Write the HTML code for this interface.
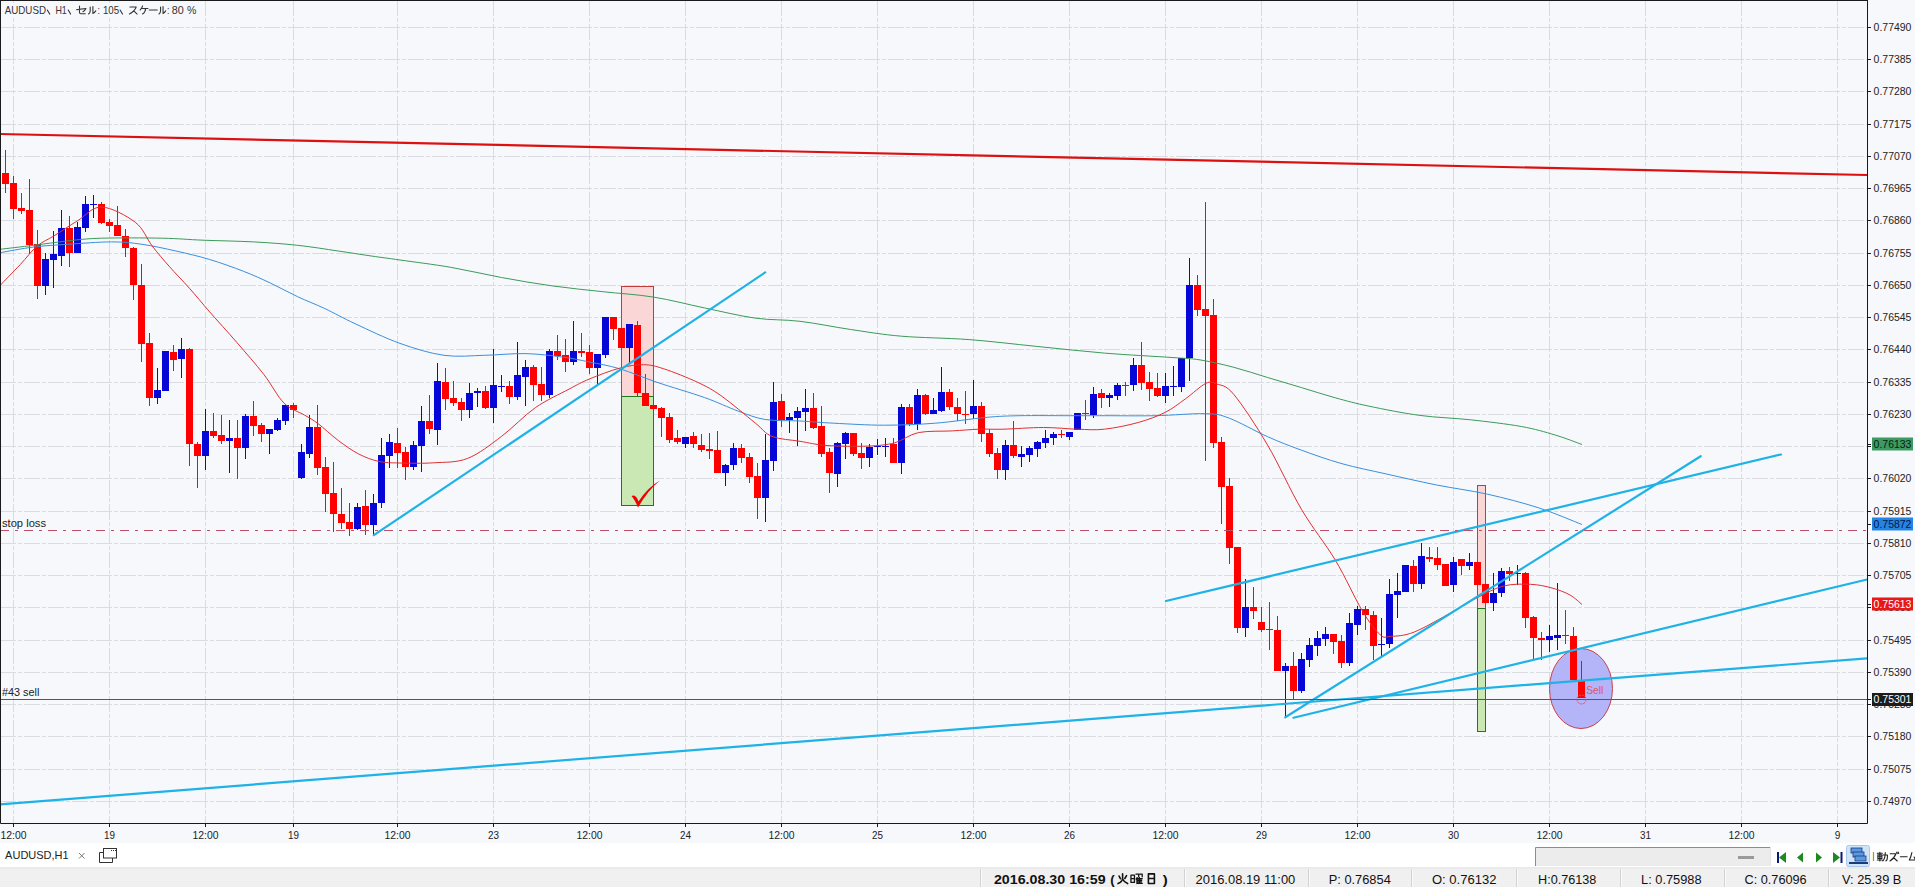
<!DOCTYPE html>
<html><head><meta charset="utf-8"><style>
html,body{margin:0;padding:0;width:1915px;height:887px;overflow:hidden;background:#f6f8fc}
svg{position:absolute;left:0;top:0;font-family:"Liberation Sans",sans-serif}
</style></head><body>
<svg width="1915" height="887" viewBox="0 0 1915 887">
<path d="M0 27.5 H1867 M0 59.5 H1867 M0 91.5 H1867 M0 124.5 H1867 M0 156.5 H1867 M0 188.5 H1867 M0 220.5 H1867 M0 253.5 H1867 M0 285.5 H1867 M0 317.5 H1867 M0 349.5 H1867 M0 382.5 H1867 M0 414.5 H1867 M0 446.5 H1867 M0 478.5 H1867 M0 511.5 H1867 M0 543.5 H1867 M0 575.5 H1867 M0 607.5 H1867 M0 640.5 H1867 M0 672.5 H1867 M0 704.5 H1867 M0 736.5 H1867 M0 769.5 H1867 M0 801.5 H1867" stroke="#dadce2" stroke-width="1" stroke-dasharray="16 2 4 2" fill="none"/>
<path d="M13.5 0 V823 M109.5 0 V823 M205.5 0 V823 M293.5 0 V823 M397.5 0 V823 M493.5 0 V823 M589.5 0 V823 M685.5 0 V823 M781.5 0 V823 M877.5 0 V823 M973.5 0 V823 M1069.5 0 V823 M1165.5 0 V823 M1261.5 0 V823 M1357.5 0 V823 M1453.5 0 V823 M1549.5 0 V823 M1645.5 0 V823 M1741.5 0 V823 M1837.5 0 V823" stroke="#dadce2" stroke-width="1" stroke-dasharray="16 2 4 2" fill="none"/>
<rect x="621.5" y="286.5" width="32" height="110" fill="#fad6d6" stroke="#c03a3a" stroke-width="1"/>
<rect x="621.5" y="396.5" width="32" height="109" fill="#c9e8b4" stroke="#1f7a1f" stroke-width="1"/>
<rect x="1477.5" y="485.5" width="8" height="123" fill="#fad6d6" stroke="#c03a3a" stroke-width="1"/>
<rect x="1477.5" y="608.5" width="8" height="123" fill="#c9e8b4" stroke="#1f7a1f" stroke-width="1"/>
<ellipse cx="1581" cy="688.5" rx="31.5" ry="40" fill="#b4b4f8" stroke="#c8404e" stroke-width="1"/>
<path d="M5.5 150 V193 M13.5 176 V219 M21.5 193 V214 M29.5 179 V254 M37.5 230 V299 M69.5 216 V267 M101.5 202 V224 M109.5 219 V232 M117.5 206 V236 M125.5 229 V257 M133.5 247 V300 M141.5 264 V362 M149.5 333 V406 M173.5 345 V371 M189.5 348 V466 M197.5 442 V488 M213.5 413 V438 M221.5 415 V444 M237.5 420 V479 M253.5 401 V436 M261.5 423 V442 M293.5 403 V418 M317.5 405 V475 M325.5 457 V512 M333.5 462 V532 M341.5 488 V529 M349.5 503 V536 M365.5 490 V535 M397.5 428 V468 M405.5 447 V480 M429.5 395 V434 M445.5 368 V410 M453.5 381 V406 M461.5 398 V421 M485.5 386 V409 M509.5 381 V404 M533.5 365 V401 M541.5 367 V401 M557.5 335 V360 M565.5 339 V372 M581.5 333 V357 M589.5 345 V374 M613.5 317 V340 M621.5 328 V348 M637.5 321 V396 M645.5 374 V406 M653.5 405 V409 M661.5 407 V437 M669.5 413 V443 M677.5 430 V444 M693.5 432 V448 M701.5 434 V452 M709.5 433 V459 M717.5 431 V473 M741.5 444 V463 M749.5 453 V483 M757.5 463 V519 M781.5 394 V427 M813.5 393 V429 M821.5 406 V457 M829.5 448 V493 M853.5 433 V456 M861.5 443 V469 M893.5 438 V463 M909.5 404 V426 M925.5 394 V415 M949.5 389 V410 M957.5 398 V421 M965.5 391 V424 M981.5 402 V442 M989.5 429 V457 M997.5 448 V479 M1013.5 421 V458 M1061.5 430 V438 M1085.5 400 V420 M1101.5 389 V408 M1125.5 382 V396 M1141.5 342 V390 M1149.5 372 V401 M1157.5 373 V397 M1197.5 275 V316 M1205.5 202 V461 M1213.5 299 V448 M1221.5 437 V524 M1229.5 478 V564 M1237.5 547 V633 M1253.5 587 V619 M1261.5 607 V632 M1269.5 602 V650 M1277.5 616 V671 M1293.5 652 V700 M1333.5 634 V654 M1341.5 635 V668 M1365.5 606 V630 M1373.5 611 V660 M1413.5 560 V592 M1429.5 547 V562 M1437.5 547 V570 M1445.5 564 V586 M1461.5 559 V575 M1477.5 562 V585 M1485.5 584 V603 M1509.5 567 V581 M1525.5 572 V628 M1533.5 616 V659 M1541.5 632 V660 M1565.5 610 V644 M1573.5 627 V680 M1581.5 661 V698" stroke="#a8282c" stroke-width="1" fill="none"/>
<path d="M45.5 253 V295 M53.5 231 V288 M61.5 210 V266 M77.5 222 V253 M85.5 196 V232 M93.5 195 V218 M157.5 368 V404 M165.5 351 V391 M181.5 338 V378 M205.5 409 V470 M229.5 420 V473 M245.5 414 V459 M269.5 429 V454 M277.5 418 V431 M285.5 405 V425 M301.5 444 V479 M309.5 415 V458 M357.5 503 V530 M373.5 494 V536 M381.5 438 V508 M389.5 434 V468 M413.5 441 V470 M421.5 406 V472 M437.5 363 V445 M469.5 383 V418 M477.5 388 V407 M493.5 349 V423 M501.5 375 V392 M517.5 342 V400 M525.5 360 V406 M549.5 349 V398 M573.5 321 V365 M597.5 354 V386 M605.5 317 V358 M629.5 324 V363 M685.5 437 V448 M725.5 464 V486 M733.5 443 V470 M765.5 434 V522 M773.5 382 V471 M789.5 413 V433 M797.5 407 V446 M805.5 389 V431 M837.5 442 V487 M845.5 432 V459 M869.5 444 V467 M877.5 439 V455 M885.5 438 V457 M901.5 404 V474 M917.5 389 V430 M933.5 398 V414 M941.5 367 V412 M973.5 380 V419 M1005.5 440 V480 M1021.5 446 V467 M1029.5 446 V462 M1037.5 441 V457 M1045.5 430 V448 M1053.5 432 V445 M1069.5 432 V440 M1077.5 413 V430 M1093.5 387 V418 M1109.5 393 V407 M1117.5 383 V400 M1133.5 358 V391 M1165.5 373 V403 M1173.5 366 V396 M1181.5 358 V392 M1189.5 258 V381 M1245.5 579 V637 M1285.5 663 V717 M1301.5 653 V693 M1309.5 638 V667 M1317.5 631 V656 M1325.5 627 V646 M1349.5 613 V666 M1357.5 606 V635 M1381.5 618 V657 M1389.5 579 V648 M1397.5 573 V618 M1405.5 565 V592 M1421.5 543 V589 M1453.5 557 V592 M1469.5 553 V570 M1493.5 573 V611 M1501.5 568 V597 M1517.5 565 V585 M1549.5 625 V652 M1557.5 583 V650" stroke="#14147a" stroke-width="1" fill="none"/>
<path d="M2 173h7v11h-7z M10 183h7v26h-7z M18 208h7v3h-7z M26 210h7v35h-7z M34 244h7v42h-7z M66 228h7v25h-7z M98 204h7v19h-7z M106 222h7v4h-7z M114 225h7v11h-7z M122 236h7v12h-7z M130 248h7v37h-7z M138 285h7v59h-7z M146 343h7v55h-7z M170 352h7v8h-7z M186 349h7v95h-7z M194 444h7v12h-7z M210 431h7v5h-7z M218 435h7v6h-7z M234 438h7v10h-7z M250 416h7v10h-7z M258 425h7v9h-7z M290 405h7v5h-7z M314 427h7v41h-7z M322 467h7v27h-7z M330 493h7v21h-7z M338 514h7v9h-7z M346 522h7v7h-7z M362 506h7v19h-7z M394 443h7v10h-7z M402 452h7v15h-7z M426 421h7v8h-7z M442 382h7v17h-7z M450 398h7v5h-7z M458 402h7v8h-7z M482 391h7v17h-7z M506 386h7v11h-7z M530 367h7v18h-7z M538 384h7v11h-7z M554 351h7v5h-7z M562 355h7v7h-7z M578 351h7v2h-7z M586 352h7v16h-7z M610 317h7v12h-7z M618 328h7v20h-7z M634 325h7v68h-7z M642 393h7v13h-7z M650 405h7v4h-7z M658 408h7v10h-7z M666 417h7v23h-7z M674 438h7v4h-7z M690 436h7v8h-7z M698 445h7v5h-7z M706 449h7v2h-7z M714 450h7v23h-7z M738 448h7v10h-7z M746 457h7v20h-7z M754 476h7v22h-7z M778 401h7v19h-7z M810 408h7v20h-7z M818 426h7v28h-7z M826 452h7v21h-7z M850 433h7v21h-7z M858 453h7v5h-7z M890 444h7v19h-7z M906 407h7v17h-7z M922 395h7v19h-7z M946 392h7v15h-7z M954 407h7v7h-7z M962 414h7v1h-7z M978 406h7v28h-7z M986 433h7v21h-7z M994 453h7v17h-7z M1010 445h7v11h-7z M1058 434h7v1h-7z M1082 413h7v1h-7z M1098 393h7v5h-7z M1122 385h7v1h-7z M1138 365h7v18h-7z M1146 382h7v7h-7z M1154 388h7v8h-7z M1194 285h7v25h-7z M1202 309h7v7h-7z M1210 315h7v128h-7z M1218 442h7v45h-7z M1226 486h7v62h-7z M1234 547h7v81h-7z M1250 607h7v4h-7z M1258 622h7v8h-7z M1266 629h7v1h-7z M1274 630h7v41h-7z M1290 666h7v25h-7z M1330 634h7v8h-7z M1338 641h7v22h-7z M1362 609h7v6h-7z M1370 615h7v31h-7z M1410 566h7v18h-7z M1426 557h7v2h-7z M1434 558h7v7h-7z M1442 564h7v22h-7z M1458 559h7v7h-7z M1474 562h7v23h-7z M1482 584h7v19h-7z M1506 571h7v3h-7z M1522 573h7v45h-7z M1530 617h7v21h-7z M1538 638h7v2h-7z M1562 635h7v1h-7z M1570 636h7v44h-7z M1578 681h7v17h-7z" fill="#ff0000"/>
<path d="M42 259h7v27h-7z M50 254h7v6h-7z M58 228h7v28h-7z M74 227h7v26h-7z M82 204h7v24h-7z M90 204h7v1h-7z M154 390h7v8h-7z M162 351h7v40h-7z M178 349h7v10h-7z M202 431h7v25h-7z M226 438h7v3h-7z M242 416h7v32h-7z M266 429h7v5h-7z M274 420h7v10h-7z M282 405h7v16h-7z M298 452h7v26h-7z M306 427h7v27h-7z M354 507h7v22h-7z M370 503h7v22h-7z M378 455h7v48h-7z M386 442h7v14h-7z M410 445h7v22h-7z M418 421h7v25h-7z M434 381h7v49h-7z M466 393h7v17h-7z M474 391h7v2h-7z M490 385h7v23h-7z M498 386h7v1h-7z M514 375h7v22h-7z M522 367h7v10h-7z M546 351h7v44h-7z M570 351h7v11h-7z M594 354h7v14h-7z M602 317h7v38h-7z M626 324h7v24h-7z M682 437h7v7h-7z M722 465h7v8h-7z M730 448h7v17h-7z M762 460h7v38h-7z M770 402h7v59h-7z M786 417h7v3h-7z M794 411h7v7h-7z M802 408h7v4h-7z M834 443h7v31h-7z M842 433h7v11h-7z M866 447h7v11h-7z M874 446h7v1h-7z M882 446h7v1h-7z M898 407h7v56h-7z M914 395h7v29h-7z M930 410h7v4h-7z M938 392h7v19h-7z M970 406h7v8h-7z M1002 445h7v25h-7z M1018 454h7v3h-7z M1026 448h7v7h-7z M1034 442h7v7h-7z M1042 438h7v5h-7z M1050 434h7v4h-7z M1066 432h7v5h-7z M1074 413h7v17h-7z M1090 394h7v21h-7z M1106 395h7v3h-7z M1114 385h7v11h-7z M1130 365h7v20h-7z M1162 386h7v10h-7z M1170 386h7v1h-7z M1178 358h7v29h-7z M1186 285h7v73h-7z M1242 607h7v21h-7z M1282 666h7v5h-7z M1298 659h7v32h-7z M1306 645h7v15h-7z M1314 638h7v8h-7z M1322 634h7v5h-7z M1346 623h7v40h-7z M1354 609h7v16h-7z M1378 644h7v1h-7z M1386 594h7v50h-7z M1394 591h7v4h-7z M1402 565h7v27h-7z M1418 556h7v28h-7z M1450 562h7v23h-7z M1466 562h7v4h-7z M1490 593h7v10h-7z M1498 571h7v22h-7z M1514 573h7v1h-7z M1546 636h7v4h-7z M1554 635h7v3h-7z" fill="#0606d6"/>
<path d="M0 249.3 C5.63 248.63 22.53 246.7 33.8 245.3 C45.07 243.9 56.32 242.08 67.6 240.9 C78.88 239.72 85.72 238.65 101.5 238.2 C117.28 237.75 145.4 237.87 162.3 238.2 C179.2 238.53 187.68 239.58 202.9 240.2 C218.12 240.82 237.82 241.05 253.6 241.9 C269.38 242.75 283.5 243.78 297.6 245.3 C311.7 246.82 325.8 249.2 338.2 251 C350.6 252.8 361.7 254.6 372 256.1 C382.3 257.6 386.88 258.13 400 260 C413.12 261.87 433.78 264.38 450.7 267.3 C467.62 270.22 484.58 274.4 501.5 277.5 C518.42 280.6 535.3 283.53 552.2 285.9 C569.1 288.27 586 289.83 602.9 291.7 C619.8 293.57 636.68 294.4 653.6 297.1 C670.52 299.8 687.48 304.4 704.4 307.9 C721.32 311.4 739.17 315.87 755.1 318.1 C771.03 320.33 784.07 319.4 800 321.3 C815.93 323.2 833.78 327.02 850.7 329.5 C867.62 331.98 881.77 334.52 901.5 336.2 C921.23 337.88 946.57 337.9 969.1 339.6 C991.63 341.3 1014.15 344.15 1036.7 346.4 C1059.25 348.65 1081.85 351.25 1104.4 353.1 C1126.95 354.95 1156.07 356.37 1172 357.5 C1187.93 358.63 1189.7 358.27 1200 359.9 C1210.3 361.53 1222.53 364.37 1233.8 367.3 C1245.07 370.23 1256.32 374.12 1267.6 377.5 C1278.88 380.88 1290.22 384.22 1301.5 387.6 C1312.78 390.98 1324.03 394.7 1335.3 397.8 C1346.57 400.9 1355.02 403.27 1369.1 406.2 C1383.18 409.13 1402.9 413.13 1419.8 415.4 C1436.7 417.67 1453.58 417.95 1470.5 419.8 C1487.42 421.65 1507.2 423.97 1521.3 426.5 C1535.4 429.03 1544.98 432 1555.1 435 C1565.22 438 1577.52 442.92 1582 444.5" stroke="#3c9a5a" stroke-width="1" fill="none" stroke-linejoin="round"/>
<path d="M0 252.7 C5.63 251.75 22.53 248.4 33.8 247 C45.07 245.6 54.63 245.15 67.6 244.3 C80.57 243.45 99.2 241.9 111.6 241.9 C124 241.9 131.28 242.78 142 244.3 C152.72 245.82 164.62 248.47 175.9 251 C187.18 253.53 198.43 256.12 209.7 259.5 C220.97 262.88 233.37 267.37 243.5 271.3 C253.63 275.23 261.48 278.87 270.5 283.1 C279.52 287.33 288.57 292.47 297.6 296.7 C306.63 300.93 315.12 304 324.7 308.5 C334.28 313 342.55 317.88 355.1 323.7 C367.65 329.52 385.18 338.13 400 343.4 C414.82 348.67 429.92 353.32 444 355.3 C458.08 357.28 470.98 355.58 484.5 355.3 C498.02 355.02 512.13 353.32 525.1 353.6 C538.07 353.88 551.58 355.6 562.3 357 C573.02 358.4 579.82 360.03 589.4 362 C598.98 363.97 608.53 365.42 619.8 368.8 C631.07 372.18 642.9 377.52 657 382.3 C671.1 387.08 690.87 392.7 704.4 397.5 C717.93 402.3 728.07 407.43 738.2 411.1 C748.33 414.77 754.9 417.85 765.2 419.5 C775.5 421.15 788.57 420.38 800 421 C811.43 421.62 819.72 422.5 833.8 423.2 C847.88 423.9 867.58 425.2 884.5 425.2 C901.42 425.2 918.38 424.5 935.3 423.2 C952.22 421.9 971.92 418.65 986 417.4 C1000.08 416.15 1005.72 415.98 1019.8 415.7 C1033.88 415.42 1056.4 415.7 1070.5 415.7 C1084.6 415.7 1090.3 415.7 1104.4 415.7 C1118.5 415.7 1138.2 416.03 1155.1 415.7 C1172 415.37 1193.43 413.28 1205.8 413.7 C1218.17 414.12 1219 414.37 1229.3 418.2 C1239.6 422.03 1255.57 431.37 1267.6 436.7 C1279.63 442.03 1289.1 445.7 1301.5 450.2 C1313.9 454.7 1327.92 459.75 1342 463.7 C1356.08 467.65 1370.22 470.35 1386 473.9 C1401.78 477.45 1419.78 481.62 1436.7 485 C1453.62 488.38 1470.58 490.42 1487.5 494.2 C1504.42 497.98 1522.45 502.65 1538.2 507.7 C1553.95 512.75 1574.7 521.7 1582 524.5" stroke="#3a8fdc" stroke-width="1" fill="none" stroke-linejoin="round"/>
<path d="M0 285.5 C3.38 282 14.1 271.08 20.3 264.5 C26.5 257.92 31.57 250.78 37.2 246 C42.83 241.22 47.33 240.03 54.1 235.8 C60.87 231.57 69.9 225.4 77.8 220.6 C85.7 215.8 91.92 206.72 101.5 207 C111.08 207.28 126.85 215.8 135.3 222.3 C143.75 228.8 146.57 238.68 152.2 246 C157.83 253.32 162.9 259.17 169.1 266.2 C175.3 273.23 182.63 280.58 189.4 288.2 C196.17 295.82 201.82 302.88 209.7 311.9 C217.58 320.92 227.68 331.88 236.7 342.3 C245.72 352.72 255.9 364.25 263.8 374.4 C271.7 384.55 277.33 396.43 284.1 403.2 C290.87 409.97 298.77 411.62 304.4 415 C310.03 418.38 312.27 419.27 317.9 423.5 C323.53 427.73 331.43 435.33 338.2 440.4 C344.97 445.47 351.73 450.4 358.5 453.9 C365.27 457.4 371.88 459.88 378.8 461.4 C385.72 462.92 390.83 462.77 400 463 C409.17 463.23 422.53 463.57 433.8 462.8 C445.07 462.03 456.32 462.8 467.6 458.4 C478.88 454 490.22 444.85 501.5 436.4 C512.78 427.95 524.03 415.58 535.3 407.7 C546.57 399.82 560.08 393.88 569.1 389.1 C578.12 384.32 580.95 382.5 589.4 379 C597.85 375.5 610.78 370.48 619.8 368.1 C628.82 365.72 636.17 364.58 643.5 364.7 C650.83 364.82 654.78 365.87 663.8 368.8 C672.82 371.73 688.02 377.78 697.6 382.3 C707.18 386.82 711.72 389.13 721.3 395.9 C730.88 402.67 746.65 416.15 755.1 422.9 C763.55 429.65 764.52 433.33 772 436.4 C779.48 439.47 790.83 439.78 800 441.3 C809.17 442.82 815.73 444.7 827 445.5 C838.27 446.3 856.32 446.55 867.6 446.1 C878.88 445.65 886.23 445.05 894.7 442.8 C903.17 440.55 908.82 434.58 918.4 432.6 C927.98 430.62 942.07 431.47 952.2 430.9 C962.33 430.33 970.75 429.48 979.2 429.2 C987.65 428.92 992.18 429.48 1002.9 429.2 C1013.62 428.92 1031.1 427.5 1043.5 427.5 C1055.9 427.5 1067.15 428.92 1077.3 429.2 C1087.45 429.48 1094.25 430.32 1104.4 429.2 C1114.55 428.08 1128.05 425.32 1138.2 422.5 C1148.35 419.68 1157.42 416.25 1165.3 412.3 C1173.18 408.35 1178.75 403.62 1185.5 398.8 C1192.25 393.98 1200.6 385.87 1205.8 383.4 C1211 380.93 1212.03 382.17 1216.7 384 C1221.37 385.83 1225.32 384.22 1233.8 394.4 C1242.28 404.58 1256.32 425.93 1267.6 445.1 C1278.88 464.27 1290.22 490.23 1301.5 509.4 C1312.78 528.57 1325.17 543.2 1335.3 560.1 C1345.43 577 1354.85 598.38 1362.3 610.8 C1369.75 623.22 1375.25 630.33 1380 634.6 C1384.75 638.87 1385.08 636.83 1390.8 636.4 C1396.52 635.97 1404.07 636.07 1414.3 632 C1424.53 627.93 1441.67 617.73 1452.2 612 C1462.73 606.27 1468.95 601.93 1477.5 597.6 C1486.05 593.27 1494.67 588.22 1503.5 586 C1512.33 583.78 1522.42 583.97 1530.5 584.3 C1538.58 584.63 1545.42 586.22 1552 588 C1558.58 589.78 1565 592.25 1570 595 C1575 597.75 1580 602.92 1582 604.5" stroke="#e03030" stroke-width="1" fill="none" stroke-linejoin="round"/>
<line x1="0" y1="134" x2="1867" y2="175" stroke="#dd1010" stroke-width="2.2"/>
<line x1="373.8" y1="535.2" x2="765.2" y2="272.4" stroke="#1eb2e6" stroke-width="2.2" stroke-linecap="round"/>
<line x1="0" y1="804.3" x2="1867" y2="658.3" stroke="#1eb2e6" stroke-width="2.2" stroke-linecap="round"/>
<line x1="1285.3" y1="717.3" x2="1700.7" y2="456.2" stroke="#1eb2e6" stroke-width="2.2" stroke-linecap="round"/>
<line x1="1293.5" y1="717.7" x2="1867" y2="579.5" stroke="#1eb2e6" stroke-width="2.2" stroke-linecap="round"/>
<line x1="1166" y1="601" x2="1781" y2="454.5" stroke="#1eb2e6" stroke-width="2.2" stroke-linecap="round"/>
<path d="M0 530.5 H1867" stroke="#c0506a" stroke-width="1" stroke-dasharray="9 6 3 6"/>
<path d="M1 699.5 H1867" stroke="#2f5f96" stroke-width="1"/>
<path d="M631.5 496 Q635 494 637.5 499 L638.5 501.5 Q648 487 660 480.5 Q648 490 638 507.5 Q635 500 631.5 496 Z" fill="#ee0000"/>
<circle cx="1581.5" cy="699.5" r="4.5" fill="none" stroke="#d05060" stroke-width="1" stroke-dasharray="2 1"/>
<text x="1586.2" y="693.6" font-size="11" font-weight="normal" fill="#dc5a64" text-anchor="start" textLength="17.2" lengthAdjust="spacingAndGlyphs">Sell</text>
<path d="M0.5 0 V823.5 H1867.5 V0" stroke="#1a1a1a" stroke-width="1" fill="none"/>
<path d="M0 0.5 H1867" stroke="#1a1a1a" stroke-width="1"/>
<path d="M1868 27.5 h3 M1868 59.5 h3 M1868 91.5 h3 M1868 124.5 h3 M1868 156.5 h3 M1868 188.5 h3 M1868 220.5 h3 M1868 253.5 h3 M1868 285.5 h3 M1868 317.5 h3 M1868 349.5 h3 M1868 382.5 h3 M1868 414.5 h3 M1868 446.5 h3 M1868 478.5 h3 M1868 511.5 h3 M1868 543.5 h3 M1868 575.5 h3 M1868 607.5 h3 M1868 640.5 h3 M1868 672.5 h3 M1868 704.5 h3 M1868 736.5 h3 M1868 769.5 h3 M1868 801.5 h3" stroke="#1a1a1a" stroke-width="1"/>
<text x="1873.6" y="31" font-size="10" font-weight="normal" fill="#222" text-anchor="start" textLength="37.8" lengthAdjust="spacingAndGlyphs">0.77490</text><text x="1873.6" y="63" font-size="10" font-weight="normal" fill="#222" text-anchor="start" textLength="37.8" lengthAdjust="spacingAndGlyphs">0.77385</text><text x="1873.6" y="95" font-size="10" font-weight="normal" fill="#222" text-anchor="start" textLength="37.8" lengthAdjust="spacingAndGlyphs">0.77280</text><text x="1873.6" y="128" font-size="10" font-weight="normal" fill="#222" text-anchor="start" textLength="37.8" lengthAdjust="spacingAndGlyphs">0.77175</text><text x="1873.6" y="160" font-size="10" font-weight="normal" fill="#222" text-anchor="start" textLength="37.8" lengthAdjust="spacingAndGlyphs">0.77070</text><text x="1873.6" y="192" font-size="10" font-weight="normal" fill="#222" text-anchor="start" textLength="37.8" lengthAdjust="spacingAndGlyphs">0.76965</text><text x="1873.6" y="224" font-size="10" font-weight="normal" fill="#222" text-anchor="start" textLength="37.8" lengthAdjust="spacingAndGlyphs">0.76860</text><text x="1873.6" y="257" font-size="10" font-weight="normal" fill="#222" text-anchor="start" textLength="37.8" lengthAdjust="spacingAndGlyphs">0.76755</text><text x="1873.6" y="289" font-size="10" font-weight="normal" fill="#222" text-anchor="start" textLength="37.8" lengthAdjust="spacingAndGlyphs">0.76650</text><text x="1873.6" y="321" font-size="10" font-weight="normal" fill="#222" text-anchor="start" textLength="37.8" lengthAdjust="spacingAndGlyphs">0.76545</text><text x="1873.6" y="353" font-size="10" font-weight="normal" fill="#222" text-anchor="start" textLength="37.8" lengthAdjust="spacingAndGlyphs">0.76440</text><text x="1873.6" y="386" font-size="10" font-weight="normal" fill="#222" text-anchor="start" textLength="37.8" lengthAdjust="spacingAndGlyphs">0.76335</text><text x="1873.6" y="418" font-size="10" font-weight="normal" fill="#222" text-anchor="start" textLength="37.8" lengthAdjust="spacingAndGlyphs">0.76230</text><text x="1873.6" y="450" font-size="10" font-weight="normal" fill="#222" text-anchor="start" textLength="37.8" lengthAdjust="spacingAndGlyphs">0.76125</text><text x="1873.6" y="482" font-size="10" font-weight="normal" fill="#222" text-anchor="start" textLength="37.8" lengthAdjust="spacingAndGlyphs">0.76020</text><text x="1873.6" y="515" font-size="10" font-weight="normal" fill="#222" text-anchor="start" textLength="37.8" lengthAdjust="spacingAndGlyphs">0.75915</text><text x="1873.6" y="547" font-size="10" font-weight="normal" fill="#222" text-anchor="start" textLength="37.8" lengthAdjust="spacingAndGlyphs">0.75810</text><text x="1873.6" y="579" font-size="10" font-weight="normal" fill="#222" text-anchor="start" textLength="37.8" lengthAdjust="spacingAndGlyphs">0.75705</text><text x="1873.6" y="611" font-size="10" font-weight="normal" fill="#222" text-anchor="start" textLength="37.8" lengthAdjust="spacingAndGlyphs">0.75600</text><text x="1873.6" y="644" font-size="10" font-weight="normal" fill="#222" text-anchor="start" textLength="37.8" lengthAdjust="spacingAndGlyphs">0.75495</text><text x="1873.6" y="676" font-size="10" font-weight="normal" fill="#222" text-anchor="start" textLength="37.8" lengthAdjust="spacingAndGlyphs">0.75390</text><text x="1873.6" y="708" font-size="10" font-weight="normal" fill="#222" text-anchor="start" textLength="37.8" lengthAdjust="spacingAndGlyphs">0.75285</text><text x="1873.6" y="740" font-size="10" font-weight="normal" fill="#222" text-anchor="start" textLength="37.8" lengthAdjust="spacingAndGlyphs">0.75180</text><text x="1873.6" y="773" font-size="10" font-weight="normal" fill="#222" text-anchor="start" textLength="37.8" lengthAdjust="spacingAndGlyphs">0.75075</text><text x="1873.6" y="805" font-size="10" font-weight="normal" fill="#222" text-anchor="start" textLength="37.8" lengthAdjust="spacingAndGlyphs">0.74970</text>
<path d="M1868 444.5 h3" stroke="#1a1a1a"/>
<rect x="1872" y="437.5" width="41" height="13" fill="#3d9a62"/>
<text x="1873.6" y="447.8" font-size="10" font-weight="normal" fill="#0a1a10" text-anchor="start" textLength="37.8" lengthAdjust="spacingAndGlyphs">0.76133</text>
<path d="M1868 524.5 h3" stroke="#1a1a1a"/>
<rect x="1872" y="517.5" width="41" height="13" fill="#2484e4"/>
<text x="1873.6" y="527.8" font-size="10" font-weight="normal" fill="#06164a" text-anchor="start" textLength="37.8" lengthAdjust="spacingAndGlyphs">0.75872</text>
<path d="M1868 604.5 h3" stroke="#1a1a1a"/>
<rect x="1872" y="597.5" width="41" height="13" fill="#e81818"/>
<text x="1873.6" y="607.8" font-size="10" font-weight="normal" fill="#ffffff" text-anchor="start" textLength="37.8" lengthAdjust="spacingAndGlyphs">0.75613</text>
<path d="M1868 699.5 h3" stroke="#1a1a1a"/>
<rect x="1872" y="693" width="41" height="13" fill="#1c1c1c"/>
<text x="1873.6" y="703.3" font-size="10" font-weight="normal" fill="#ffffff" text-anchor="start" textLength="37.8" lengthAdjust="spacingAndGlyphs">0.75301</text>
<path d="M13.5 824 v3 M109.5 824 v3 M205.5 824 v3 M293.5 824 v3 M397.5 824 v3 M493.5 824 v3 M589.5 824 v3 M685.5 824 v3 M781.5 824 v3 M877.5 824 v3 M973.5 824 v3 M1069.5 824 v3 M1165.5 824 v3 M1261.5 824 v3 M1357.5 824 v3 M1453.5 824 v3 M1549.5 824 v3 M1645.5 824 v3 M1741.5 824 v3 M1837.5 824 v3" stroke="#1a1a1a" stroke-width="1"/>
<text x="13.5" y="839" font-size="10" font-weight="normal" fill="#222" text-anchor="middle" textLength="26" lengthAdjust="spacingAndGlyphs">12:00</text><text x="109.5" y="839" font-size="10" font-weight="normal" fill="#222" text-anchor="middle" textLength="11" lengthAdjust="spacingAndGlyphs">19</text><text x="205.5" y="839" font-size="10" font-weight="normal" fill="#222" text-anchor="middle" textLength="26" lengthAdjust="spacingAndGlyphs">12:00</text><text x="293.5" y="839" font-size="10" font-weight="normal" fill="#222" text-anchor="middle" textLength="11" lengthAdjust="spacingAndGlyphs">19</text><text x="397.5" y="839" font-size="10" font-weight="normal" fill="#222" text-anchor="middle" textLength="26" lengthAdjust="spacingAndGlyphs">12:00</text><text x="493.5" y="839" font-size="10" font-weight="normal" fill="#222" text-anchor="middle" textLength="11" lengthAdjust="spacingAndGlyphs">23</text><text x="589.5" y="839" font-size="10" font-weight="normal" fill="#222" text-anchor="middle" textLength="26" lengthAdjust="spacingAndGlyphs">12:00</text><text x="685.5" y="839" font-size="10" font-weight="normal" fill="#222" text-anchor="middle" textLength="11" lengthAdjust="spacingAndGlyphs">24</text><text x="781.5" y="839" font-size="10" font-weight="normal" fill="#222" text-anchor="middle" textLength="26" lengthAdjust="spacingAndGlyphs">12:00</text><text x="877.5" y="839" font-size="10" font-weight="normal" fill="#222" text-anchor="middle" textLength="11" lengthAdjust="spacingAndGlyphs">25</text><text x="973.5" y="839" font-size="10" font-weight="normal" fill="#222" text-anchor="middle" textLength="26" lengthAdjust="spacingAndGlyphs">12:00</text><text x="1069.5" y="839" font-size="10" font-weight="normal" fill="#222" text-anchor="middle" textLength="11" lengthAdjust="spacingAndGlyphs">26</text><text x="1165.5" y="839" font-size="10" font-weight="normal" fill="#222" text-anchor="middle" textLength="26" lengthAdjust="spacingAndGlyphs">12:00</text><text x="1261.5" y="839" font-size="10" font-weight="normal" fill="#222" text-anchor="middle" textLength="11" lengthAdjust="spacingAndGlyphs">29</text><text x="1357.5" y="839" font-size="10" font-weight="normal" fill="#222" text-anchor="middle" textLength="26" lengthAdjust="spacingAndGlyphs">12:00</text><text x="1453.5" y="839" font-size="10" font-weight="normal" fill="#222" text-anchor="middle" textLength="11" lengthAdjust="spacingAndGlyphs">30</text><text x="1549.5" y="839" font-size="10" font-weight="normal" fill="#222" text-anchor="middle" textLength="26" lengthAdjust="spacingAndGlyphs">12:00</text><text x="1645.5" y="839" font-size="10" font-weight="normal" fill="#222" text-anchor="middle" textLength="11" lengthAdjust="spacingAndGlyphs">31</text><text x="1741.5" y="839" font-size="10" font-weight="normal" fill="#222" text-anchor="middle" textLength="26" lengthAdjust="spacingAndGlyphs">12:00</text><text x="1837.5" y="839" font-size="10" font-weight="normal" fill="#222" text-anchor="middle" textLength="5.6" lengthAdjust="spacingAndGlyphs">9</text>
<rect x="3" y="3" width="196" height="14" fill="#f6f8fc"/>
<text x="4.7" y="13.8" font-size="10.5" font-weight="normal" fill="#333" text-anchor="start" textLength="41.3" lengthAdjust="spacingAndGlyphs">AUDUSD</text>
<path d="M2 5 L8 9.5" transform="translate(46.5 5.5) scale(0.4 0.9)" fill="none" stroke="#333" stroke-width="1.1" vector-effect="non-scaling-stroke" stroke-linecap="round" stroke-linejoin="round"/>
<text x="55.4" y="13.8" font-size="10.5" font-weight="normal" fill="#333" text-anchor="start" textLength="11.4" lengthAdjust="spacingAndGlyphs">H1</text>
<path d="M2 5 L8 9.5" transform="translate(67.4 5.5) scale(0.4 0.9)" fill="none" stroke="#333" stroke-width="1.1" vector-effect="non-scaling-stroke" stroke-linecap="round" stroke-linejoin="round"/>
<path d="M0.5 4.8 L9.5 3.6 Q8.5 6 6.5 7 M3.2 1 V8 Q3.2 9.3 4.7 9.3 H8.8" transform="translate(76.2 5.2) scale(1.03 0.92)" fill="none" stroke="#333" stroke-width="1.1" vector-effect="non-scaling-stroke" stroke-linecap="round" stroke-linejoin="round"/>
<path d="M3 2 V6 Q3 8.5 1 9.6 M6.2 1.5 V9 Q8 8.3 9.6 6.2" transform="translate(87.7 5.2) scale(0.84 0.92)" fill="none" stroke="#333" stroke-width="1.1" vector-effect="non-scaling-stroke" stroke-linecap="round" stroke-linejoin="round"/>
<text x="97.4" y="13.8" font-size="10.5" font-weight="normal" fill="#333" text-anchor="start" textLength="2.4" lengthAdjust="spacingAndGlyphs">:</text>
<text x="102.9" y="13.8" font-size="10.5" font-weight="normal" fill="#333" text-anchor="start" textLength="16.2" lengthAdjust="spacingAndGlyphs">105</text>
<path d="M2 5 L8 9.5" transform="translate(119.3 5.5) scale(0.4 0.9)" fill="none" stroke="#333" stroke-width="1.1" vector-effect="non-scaling-stroke" stroke-linecap="round" stroke-linejoin="round"/>
<path d="M1.5 2 H8.2 Q6.5 6.5 1 9.6 M5.6 6.2 L9.2 9.6" transform="translate(128.5 5.2) scale(0.94 0.92)" fill="none" stroke="#333" stroke-width="1.1" vector-effect="non-scaling-stroke" stroke-linecap="round" stroke-linejoin="round"/>
<path d="M3.6 0.8 Q2.8 3.6 0.8 5.2 M2.8 3.6 H9.6 M7 3.6 Q6.8 7.8 3.5 9.6" transform="translate(139.4 5.2) scale(0.89 0.92)" fill="none" stroke="#333" stroke-width="1.1" vector-effect="non-scaling-stroke" stroke-linecap="round" stroke-linejoin="round"/>
<path d="M0.5 5.2 H9.5" transform="translate(148.8 5.2) scale(0.89 0.92)" fill="none" stroke="#333" stroke-width="1.1" vector-effect="non-scaling-stroke" stroke-linecap="round" stroke-linejoin="round"/>
<path d="M3 2 V6 Q3 8.5 1 9.6 M6.2 1.5 V9 Q8 8.3 9.6 6.2" transform="translate(158.2 5.2) scale(0.78 0.92)" fill="none" stroke="#333" stroke-width="1.1" vector-effect="non-scaling-stroke" stroke-linecap="round" stroke-linejoin="round"/>
<text x="166.9" y="13.8" font-size="10.5" font-weight="normal" fill="#333" text-anchor="start" textLength="2.4" lengthAdjust="spacingAndGlyphs">:</text>
<text x="171.8" y="13.8" font-size="10.5" font-weight="normal" fill="#333" text-anchor="start" textLength="12" lengthAdjust="spacingAndGlyphs">80</text>
<text x="186.9" y="13.8" font-size="10.5" font-weight="normal" fill="#333" text-anchor="start" textLength="9.4" lengthAdjust="spacingAndGlyphs">%</text>
<text x="2" y="526.7" font-size="10.5" font-weight="normal" fill="#222" text-anchor="start" textLength="44" lengthAdjust="spacingAndGlyphs">stop loss</text>
<text x="1.9" y="695.9" font-size="10.8" font-weight="normal" fill="#222" text-anchor="start" textLength="37.4" lengthAdjust="spacingAndGlyphs">#43 sell</text>
<rect x="0" y="843" width="1915" height="25" fill="#ffffff"/>
<rect x="0" y="867.5" width="1915" height="1" fill="#d6d6d6"/>
<rect x="0" y="868.5" width="1915" height="18.5" fill="#f0f0f0"/>
<text x="5.1" y="858.9" font-size="11" font-weight="normal" fill="#222" text-anchor="start" textLength="63.6" lengthAdjust="spacingAndGlyphs">AUDUSD,H1</text>
<path d="M79 853 L84.5 858.5 M84.5 853 L79 858.5" stroke="#777" stroke-width="1"/>
<rect x="103.5" y="848.5" width="13" height="9.5" fill="#fff" stroke="#333"/><path d="M111 850.5h1M113 850.5h1M115 850.5h1" stroke="#333"/><path d="M103.5 852.5H99.5V862.5H112.5V858" fill="none" stroke="#333"/>
<rect x="1535" y="847" width="236" height="19" fill="#ececec"/>
<path d="M1535.5 866 V847.5 H1770" stroke="#8c8c8c" fill="none"/>
<path d="M1770.5 847.5 V866" stroke="#e4e4e4" fill="none"/>
<rect x="1738" y="856" width="16" height="3" fill="#9a9a9a"/>
<g transform="translate(1777 850)"><rect x="0" y="2" width="2" height="11" fill="#0a1a7a"/><path d="M2 7.5 L9 2 V13 Z" fill="#1e8a1e"/><path d="M20 7.5 L26 2.5 V12.5 Z" fill="#1e8a1e"/><path d="M39 2.5 L45 7.5 L39 12.5 Z" fill="#1e8a1e"/><path d="M56 2 L63 7.5 L56 13 Z" fill="#1e8a1e"/><rect x="63.5" y="2" width="2" height="11" fill="#0a1a7a"/></g>
<rect x="1846.5" y="845.5" width="23" height="21" rx="2" fill="#cfe4f8" stroke="#a8c8ec"/>
<g stroke="#1a3a7a" stroke-width="0.8" fill="#5a9ae0"><rect x="1851" y="848" width="11" height="5"/><rect x="1853" y="852" width="11" height="5"/><rect x="1855" y="856" width="11" height="5"/></g><rect x="1849" y="862" width="19" height="2" fill="#1a3a7a"/>
<text x="1872.6" y="861" font-size="12" font-weight="normal" fill="#222" text-anchor="start" textLength="1.8" lengthAdjust="spacingAndGlyphs">I</text>
<path d="M0.5 1.5 H5 M2.8 0.5 V9.6 M1 3.2 H4.6 V7 H1 Z M1 5.1 H4.6 M0.5 8.6 H5 M5.6 3.4 H9.5 Q9.6 9.6 8 9.4 M7.6 0.8 Q7.6 7 5.4 9.6" transform="translate(1876.7 851.8) scale(1.13 0.96)" fill="none" stroke="#222" stroke-width="1.1" vector-effect="non-scaling-stroke" stroke-linecap="round" stroke-linejoin="round"/>
<path d="M1.2 2 H7 Q5.6 6.5 1 9.6 M4.8 6.2 L8.4 9.6 M7.8 0.4 L8.4 2 M9.3 0.2 L9.9 1.8" transform="translate(1889 851.8) scale(0.98 0.96)" fill="none" stroke="#222" stroke-width="1.1" vector-effect="non-scaling-stroke" stroke-linecap="round" stroke-linejoin="round"/>
<path d="M0.5 5.2 H9.5" transform="translate(1900 851.8) scale(0.75 0.96)" fill="none" stroke="#222" stroke-width="1.1" vector-effect="non-scaling-stroke" stroke-linecap="round" stroke-linejoin="round"/>
<path d="M4.2 0.8 Q3.2 5 1 8.6 H9 M7 5.4 L9.6 9.6" transform="translate(1908.5 851.8) scale(0.8 0.96)" fill="none" stroke="#222" stroke-width="1.1" vector-effect="non-scaling-stroke" stroke-linecap="round" stroke-linejoin="round"/>
<rect x="980" y="869" width="1" height="18" fill="#d2d2d2"/><rect x="981" y="869" width="1" height="18" fill="#fafafa"/>
<rect x="1184" y="869" width="1" height="18" fill="#d2d2d2"/><rect x="1185" y="869" width="1" height="18" fill="#fafafa"/>
<rect x="1308" y="869" width="1" height="18" fill="#d2d2d2"/><rect x="1309" y="869" width="1" height="18" fill="#fafafa"/>
<rect x="1411" y="869" width="1" height="18" fill="#d2d2d2"/><rect x="1412" y="869" width="1" height="18" fill="#fafafa"/>
<rect x="1516" y="869" width="1" height="18" fill="#d2d2d2"/><rect x="1517" y="869" width="1" height="18" fill="#fafafa"/>
<rect x="1620" y="869" width="1" height="18" fill="#d2d2d2"/><rect x="1621" y="869" width="1" height="18" fill="#fafafa"/>
<rect x="1724" y="869" width="1" height="18" fill="#d2d2d2"/><rect x="1725" y="869" width="1" height="18" fill="#fafafa"/>
<rect x="1828" y="869" width="1" height="18" fill="#d2d2d2"/><rect x="1829" y="869" width="1" height="18" fill="#fafafa"/>
<text x="993.9" y="883.7" font-size="12.3" font-weight="bold" fill="#111" text-anchor="start" textLength="111.7" lengthAdjust="spacingAndGlyphs">2016.08.30 16:59</text>
<text x="1110.3" y="883.7" font-size="12.3" font-weight="bold" fill="#111" text-anchor="start" textLength="4.4" lengthAdjust="spacingAndGlyphs">(</text>
<path d="M5 0.8 V5 Q4.6 8.2 0.8 9.6 M5 5.5 Q6.2 8.3 9.6 9.6 M1.8 2.8 L3 5.2 M8.6 2.4 L7 5" transform="translate(1117.1 873) scale(1.1 1.1)" fill="none" stroke="#111" stroke-width="1.6" vector-effect="non-scaling-stroke" stroke-linecap="round" stroke-linejoin="round"/>
<path d="M0.6 2 H3.4 V8.6 H0.6 Z M0.6 5.2 H3.4 M4.6 1 H6.8 V3.4 M7.6 1 H9.6 V3.4 M5.6 4.2 L4.8 5.6 M5.4 5 V9.6 M5.4 5.2 H9.6 M5.4 6.6 H9.2 M5.4 8 H9.2 M5.4 9.5 H9.6 M7.4 4.2 V9.5" transform="translate(1130.2 873) scale(1.25 1.1)" fill="none" stroke="#111" stroke-width="1.3" vector-effect="non-scaling-stroke" stroke-linecap="round" stroke-linejoin="round"/>
<path d="M2 0.8 H8 V9.6 H2 Z M2 5 H8" transform="translate(1146.4 873) scale(1 1.1)" fill="none" stroke="#111" stroke-width="1.6" vector-effect="non-scaling-stroke" stroke-linecap="round" stroke-linejoin="round"/>
<text x="1162.8" y="883.7" font-size="12.3" font-weight="bold" fill="#111" text-anchor="start" textLength="5" lengthAdjust="spacingAndGlyphs">)</text>
<text x="1195.6" y="883.7" font-size="12.3" font-weight="normal" fill="#111" text-anchor="start" textLength="99.7" lengthAdjust="spacingAndGlyphs">2016.08.19 11:00</text>
<text x="1328.7" y="883.7" font-size="12.3" font-weight="normal" fill="#111" text-anchor="start" textLength="62.1" lengthAdjust="spacingAndGlyphs">P: 0.76854</text>
<text x="1432" y="883.7" font-size="12.3" font-weight="normal" fill="#111" text-anchor="start" textLength="64.4" lengthAdjust="spacingAndGlyphs">O: 0.76132</text>
<text x="1538" y="883.7" font-size="12.3" font-weight="normal" fill="#111" text-anchor="start" textLength="58.4" lengthAdjust="spacingAndGlyphs">H:0.76138</text>
<text x="1641" y="883.7" font-size="12.3" font-weight="normal" fill="#111" text-anchor="start" textLength="60.6" lengthAdjust="spacingAndGlyphs">L: 0.75988</text>
<text x="1744.5" y="883.7" font-size="12.3" font-weight="normal" fill="#111" text-anchor="start" textLength="62.2" lengthAdjust="spacingAndGlyphs">C: 0.76096</text>
<text x="1842" y="883.7" font-size="12.3" font-weight="normal" fill="#111" text-anchor="start" textLength="59.4" lengthAdjust="spacingAndGlyphs">V: 25.39 B</text>
</svg>
</body></html>
